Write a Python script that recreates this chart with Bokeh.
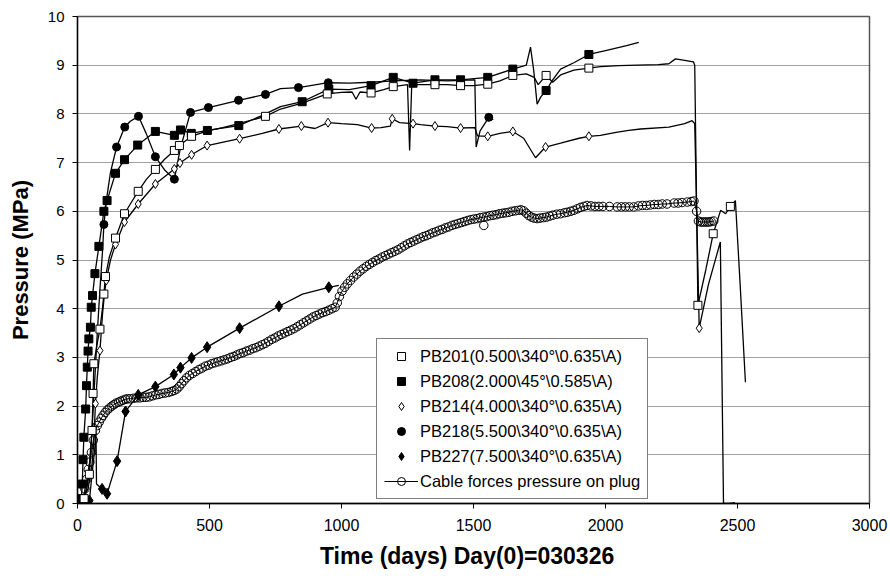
from bokeh.plotting import figure
from bokeh.models import Legend, LegendItem, FixedTicker, Range1d
from bokeh.embed import file_html
from bokeh.resources import INLINE

FONT = "Liberation Sans"

x_ticks = [0, 500, 1000, 1500, 2000, 2500, 3000]
y_ticks = [0, 1, 2, 3, 4, 5, 6, 7, 8, 9, 10]

labels = [
    "PB201(0.500\\340°\\0.635\\A)",
    "PB208(2.000\\45°\\0.585\\A)",
    "PB214(4.000\\340°\\0.635\\A)",
    "PB218(5.500\\340°\\0.635\\A)",
    "PB227(7.500\\340°\\0.635\\A)",
    "Cable forces pressure on plug",
]

# ---- PB201 (open squares) ----
pb201_day = [0, 25, 45, 55, 59, 62, 75, 85, 95, 100, 106, 120, 144, 178, 200, 230, 260, 295, 330, 367,
             386, 432, 491, 550, 611, 712, 769, 851, 946, 1000, 1040, 1055, 1070, 1112, 1160, 1196,
             1250, 1258, 1266, 1300, 1354, 1400, 1451, 1500, 1554, 1600, 1649, 1700, 1730, 1745, 1775,
             1800, 1830, 1880, 1937, 1981, 2050, 2120, 2200, 2240, 2265, 2300, 2333, 2338, 2350, 2380,
             2408, 2436, 2455, 2473, 2492, 2510, 2530]
pb201_p = [0.05, 0.1, 0.6, 1.5, 2.26, 2.87, 3.3, 3.58, 4.03, 4.3, 4.66, 5.05, 5.45, 5.95, 6.15, 6.41, 6.65,
           6.86, 7.07, 7.25, 7.35, 7.54, 7.65, 7.72, 7.8, 7.95, 8.1, 8.22, 8.41, 8.44, 8.45, 8.3, 8.45,
           8.43, 8.5, 8.56, 8.6, 7.25, 8.6, 8.6, 8.6, 8.6, 8.58, 8.58, 8.61, 8.68, 8.79, 8.82, 8.75, 8.6,
           8.79, 8.65, 8.8, 8.9, 8.94, 8.97, 8.99, 9.0, 9.01, 9.03, 9.13, 9.1, 9.07, 9.0, 4.07, 4.8,
           5.54, 6.02, 5.95, 6.1, 6.22, 4.5, 2.49]
pb201_mk_day = [25, 45, 55, 59, 62, 85, 100, 106, 144, 178, 230, 295, 367, 386, 432, 712, 946, 1112,
                1196, 1354, 1451, 1554, 1649, 1775, 1937, 2350, 2408, 2473]
pb201_mk_p = [0.1, 0.6, 1.5, 2.26, 2.87, 3.58, 4.3, 4.66, 5.45, 5.95, 6.41, 6.86, 7.25, 7.35, 7.54, 7.95,
              8.41, 8.43, 8.56, 8.6, 8.58, 8.61, 8.79, 8.79, 8.94, 4.07, 5.54, 6.1]

# ---- PB208 (filled squares) ----
pb208_day = [0, 15, 18, 21, 24, 31, 34, 37, 40, 43, 49, 52, 57, 66, 81, 100, 112, 144, 178, 228, 295,
             367, 390, 431, 492, 611, 700, 769, 851, 952, 1030, 1112, 1196, 1271, 1354, 1451, 1554,
             1649, 1700, 1716, 1728, 1741, 1755, 1775, 1800, 1830, 1880, 1937, 2000, 2080, 2126]
pb208_p = [0.05, 0.1, 0.4, 0.9, 1.36, 1.94, 2.42, 2.8, 3.13, 3.38, 3.62, 4.03, 4.27, 4.72, 5.28, 6.0,
           6.22, 6.78, 7.06, 7.36, 7.64, 7.56, 7.67, 7.6, 7.66, 7.76, 7.97, 8.15, 8.25, 8.51, 8.5, 8.58,
           8.75, 8.63, 8.7, 8.7, 8.75, 8.92, 9.0, 9.37, 8.9, 8.2, 8.35, 8.48, 8.7, 8.92, 9.05, 9.22,
           9.3, 9.4, 9.47]
pb208_mk_day = [15, 18, 21, 24, 31, 34, 37, 40, 43, 49, 52, 57, 66, 81, 100, 112, 144, 178, 228, 295,
                367, 390, 431, 492, 611, 851, 952, 1112, 1196, 1271, 1354, 1451, 1554, 1649, 1775, 1937]
pb208_mk_p = [0.1, 0.4, 0.9, 1.36, 1.94, 2.42, 2.8, 3.13, 3.38, 3.62, 4.03, 4.27, 4.72, 5.28, 6.0, 6.22,
              6.78, 7.06, 7.36, 7.64, 7.56, 7.67, 7.6, 7.66, 7.76, 8.25, 8.51, 8.58, 8.75, 8.63, 8.7,
              8.7, 8.75, 8.92, 8.48, 9.22]

# ---- PB214 (open diamonds) ----
pb214_day = [0, 20, 40, 55, 62, 68, 75, 85, 95, 102, 109, 125, 144, 178, 230, 295, 367, 388, 432, 491,
             614, 700, 763, 848, 900, 949, 1000, 1060, 1114, 1150, 1185, 1192, 1220, 1271, 1300, 1354,
             1400, 1451, 1505, 1515, 1554, 1600, 1649, 1690, 1735, 1773, 1830, 1900, 1937, 1981, 2040,
             2088, 2133, 2240, 2300, 2328, 2338, 2355, 2390, 2435, 2447, 2470, 2490]
pb214_p = [0.05, 0.1, 0.3, 0.8, 1.3, 2.05, 2.6, 3.14, 3.9, 4.3, 4.58, 5.0, 5.32, 5.78, 6.15, 6.56, 6.87,
           6.99, 7.16, 7.35, 7.49, 7.6, 7.69, 7.75, 7.7, 7.82, 7.8, 7.78, 7.71, 7.72, 7.75, 7.9, 7.82,
           7.8, 7.78, 7.75, 7.74, 7.71, 7.72, 7.55, 7.54, 7.6, 7.64, 7.5, 7.1, 7.32, 7.4, 7.5, 7.54,
           7.56, 7.62, 7.66, 7.69, 7.73, 7.8, 7.86, 7.8, 3.6, 4.5, 5.37, 0.0, 0.0, 0.02]
pb214_mk_day = [68, 85, 109, 144, 178, 230, 295, 367, 388, 432, 491, 614, 763, 848, 949, 1114, 1192,
                1271, 1354, 1451, 1554, 1649, 1773, 1937, 2355]
pb214_mk_p = [2.05, 3.14, 4.58, 5.32, 5.78, 6.15, 6.56, 6.87, 6.99, 7.16, 7.35, 7.49, 7.69, 7.75, 7.82,
              7.71, 7.9, 7.8, 7.75, 7.71, 7.54, 7.64, 7.32, 7.54, 3.6]

# ---- PB218 (filled circles) ----
pb218_day = [0, 20, 35, 45, 55, 65, 75, 85, 95, 100, 110, 125, 148, 179, 200, 231, 260, 295, 330, 367,
             390, 428, 496, 610, 712, 769, 837, 950, 1030, 1112, 1196, 1300, 1400, 1505, 1510, 1525,
             1558, 1575]
pb218_p = [0.05, 0.1, 0.3, 0.8, 1.5, 2.5, 3.5, 4.4, 5.2, 5.73, 6.25, 6.8, 7.32, 7.73, 7.85, 7.95, 7.6,
           7.12, 6.85, 6.66, 7.3, 8.03, 8.13, 8.28, 8.4, 8.52, 8.54, 8.64, 8.63, 8.65, 8.68, 8.7, 8.68,
           8.7, 7.32, 7.65, 7.93, 7.88]
pb218_mk_day = [100, 148, 179, 231, 295, 367, 428, 496, 610, 712, 837, 950, 1558]
pb218_mk_p = [5.73, 7.32, 7.73, 7.95, 7.12, 6.66, 8.03, 8.13, 8.28, 8.4, 8.54, 8.64, 7.93]

# ---- PB227 (filled diamonds) ----
pb227_day = [0, 10, 25, 45, 55, 65, 70, 72, 93, 112, 150, 182, 230, 295, 365, 390, 432, 491, 614, 763,
             852, 952, 990]
pb227_p = [0.02, 0.06, 0.1, 0.06, 0.6, 1.1, 1.5, 0.4, 0.3, 0.2, 0.87, 1.89, 2.23, 2.4, 2.65, 2.79, 2.99,
           3.21, 3.6, 4.05, 4.3, 4.44, 4.48]
pb227_mk_day = [10, 45, 93, 112, 150, 182, 230, 295, 365, 390, 432, 491, 614, 763, 952]
pb227_mk_p = [0.06, 0.06, 0.3, 0.2, 0.87, 1.89, 2.23, 2.4, 2.65, 2.79, 2.99, 3.21, 3.6, 4.05, 4.44]

# ---- Cable forces pressure on plug (open circles, densely logged) ----
cable_day = [15, 22, 28, 35, 41, 47, 53, 60, 68, 75, 82, 90, 97, 105, 113, 121, 130, 138, 146, 155, 163,
             172, 181, 190, 200, 212, 224, 236, 248, 260, 272, 284, 296, 308, 320, 332, 344, 356, 366,
             376, 385, 394, 403, 413, 424, 436, 448, 460, 472, 484, 496, 508, 520, 532, 544, 556, 568,
             580, 592, 604, 616, 628, 640, 652, 664, 676, 688, 700, 712, 724, 736, 748, 760, 772, 784,
             796, 808, 820, 832, 844, 856, 868, 880, 892, 904, 916, 928, 940, 952, 964, 976, 984, 992,
             1002, 1012, 1022, 1034, 1046, 1058, 1070, 1082, 1094, 1106, 1118, 1130, 1142, 1154, 1166,
             1178, 1190, 1202, 1214, 1226, 1238, 1250, 1262, 1274, 1286, 1298, 1310, 1322, 1334, 1346,
             1358, 1370, 1382, 1394, 1406, 1418, 1430, 1442, 1454, 1466, 1478, 1490, 1502, 1514, 1526,
             1538, 1550, 1562, 1574, 1586, 1598, 1610, 1622, 1634, 1646, 1658, 1670, 1680, 1690, 1700,
             1710, 1720, 1730, 1741, 1752, 1764, 1776, 1788, 1800, 1815, 1830, 1845, 1855, 1868, 1880,
             1893, 1905, 1918, 1930, 1945, 1960, 1975, 1990, 2015, 2044, 2060, 2075, 2090, 2107, 2125,
             2140, 2155, 2170, 2185, 2200, 2215, 2233, 2260, 2275, 2290, 2310, 2325, 2335, 2345, 2352,
             2360, 2368, 2376, 2384, 2392, 2400, 2410]
cable_p = [0.02, 0.1, 0.3, 0.5, 0.7, 0.85, 1.05, 1.3, 1.5, 1.6, 1.67, 1.75, 1.81, 1.87, 1.92, 1.96, 2.0,
           2.03, 2.06, 2.08, 2.1, 2.12, 2.14, 2.15, 2.15, 2.16, 2.17, 2.17, 2.18, 2.18, 2.19, 2.21, 2.23,
           2.24, 2.26, 2.27, 2.28, 2.3, 2.32, 2.35, 2.4, 2.46, 2.52, 2.58, 2.63, 2.67, 2.71, 2.75, 2.78,
           2.82, 2.84, 2.87, 2.89, 2.91, 2.93, 2.95, 2.97, 3.0, 3.02, 3.05, 3.08, 3.1, 3.13, 3.15, 3.18,
           3.2, 3.23, 3.26, 3.29, 3.33, 3.37, 3.4, 3.44, 3.47, 3.5, 3.53, 3.56, 3.59, 3.63, 3.67, 3.71,
           3.75, 3.79, 3.83, 3.86, 3.89, 3.92, 3.94, 3.97, 4.0, 4.03, 4.12, 4.25, 4.36, 4.44, 4.51, 4.58,
           4.65, 4.71, 4.77, 4.82, 4.87, 4.91, 4.95, 4.99, 5.02, 5.06, 5.09, 5.12, 5.15, 5.18, 5.21,
           5.25, 5.29, 5.33, 5.36, 5.39, 5.42, 5.45, 5.48, 5.5, 5.53, 5.56, 5.58, 5.61, 5.63, 5.66, 5.68,
           5.71, 5.73, 5.75, 5.77, 5.79, 5.81, 5.83, 5.84, 5.85, 5.87, 5.88, 5.89, 5.91, 5.92, 5.93,
           5.95, 5.96, 5.97, 5.98, 6.0, 6.01, 6.02, 6.03, 6.01, 5.96, 5.91, 5.88, 5.86, 5.85, 5.86, 5.87,
           5.88, 5.9, 5.92, 5.94, 5.95, 5.97, 5.98, 6.0, 6.02, 6.05, 6.08, 6.1, 6.12, 6.11, 6.1, 6.1,
           6.1, 6.1, 6.09, 6.09, 6.09, 6.09, 6.09, 6.11, 6.12, 6.12, 6.13, 6.14, 6.14, 6.15, 6.15, 6.17,
           6.17, 6.18, 6.19, 6.2, 6.21, 6.0, 5.8, 5.78, 5.78, 5.78, 5.78, 5.78, 5.79, 5.8]
cable_extra_day = [1539]
cable_extra_p = [5.71]

p = figure(width=890, height=579, output_backend="svg", toolbar_location=None,
           x_range=Range1d(0, 3000), y_range=Range1d(0, 10),
           min_border_left=77, min_border_right=21, min_border_top=16, min_border_bottom=76)
p.background_fill_color = "white"
p.border_fill_color = "white"
p.outline_line_color = "#555555"
p.outline_line_width = 1.5

p.xgrid.visible = False
p.ygrid.grid_line_color = "#444444"
p.ygrid.grid_line_dash = "1 1"
p.ygrid.grid_line_width = 1

p.xaxis.ticker = FixedTicker(ticks=x_ticks)
p.yaxis.ticker = FixedTicker(ticks=y_ticks)
for ax in (p.xaxis, p.yaxis):
    ax.axis_line_color = "black"
    ax.axis_line_width = 1.3
    ax.major_tick_line_color = "black"
    ax.major_tick_in = 0
    ax.major_tick_out = 5
    ax.minor_tick_line_color = None
    ax.major_label_text_font = FONT
    ax.major_label_text_color = "black"
    ax.axis_label_text_font = FONT
    ax.axis_label_text_font_style = "bold"
    ax.axis_label_text_color = "black"
p.xaxis.axis_label_text_font_size = "23px"
p.yaxis.axis_label_text_font_size = "22px"
p.xaxis.major_label_text_font_size = "16px"
p.yaxis.major_label_text_font_size = "15px"
p.xaxis.major_label_standoff = 10
p.yaxis.major_label_standoff = 8
p.xaxis.axis_label = "Time  (days)  Day(0)=030326"
p.yaxis.axis_label = "Pressure (MPa)"
p.xaxis.axis_label_standoff = 9
p.yaxis.axis_label_standoff = 12

LW = 1.3
p.line(pb201_day, pb201_p, line_color="black", line_width=LW)
p.line(pb208_day, pb208_p, line_color="black", line_width=LW)
p.line(pb214_day, pb214_p, line_color="black", line_width=LW)
p.line(pb218_day, pb218_p, line_color="black", line_width=LW)
p.line(pb227_day, pb227_p, line_color="black", line_width=LW)
cl = p.line(cable_day, cable_p, line_color="black", line_width=1.0)

cs = p.scatter(cable_day, cable_p, marker="circle", size=8.5, fill_color=None,
               line_color="black", line_width=1)
p.scatter(cable_extra_day, cable_extra_p, marker="circle", size=8.5, fill_color=None,
          line_color="black", line_width=1)
s227 = p.scatter(pb227_mk_day, pb227_mk_p, marker="diamond", size=11, fill_color="black",
                 line_color="black")
s218 = p.scatter(pb218_mk_day, pb218_mk_p, marker="circle", size=8, fill_color="black",
                 line_color="black")
s214 = p.scatter(pb214_mk_day, pb214_mk_p, marker="diamond", size=9, fill_color="white",
                 line_color="black", line_width=1)
s208 = p.scatter(pb208_mk_day, pb208_mk_p, marker="square", size=8, fill_color="black",
                 line_color="black")
s201 = p.scatter(pb201_mk_day, pb201_mk_p, marker="square", size=8, fill_color="white",
                 line_color="black", line_width=1)

legend = Legend(items=[
    LegendItem(label=labels[0], renderers=[s201]),
    LegendItem(label=labels[1], renderers=[s208]),
    LegendItem(label=labels[2], renderers=[s214]),
    LegendItem(label=labels[3], renderers=[s218]),
    LegendItem(label=labels[4], renderers=[s227]),
    LegendItem(label=labels[5], renderers=[cl, cs]),
], location=(299, 4), margin=0, padding=7, spacing=5,
    glyph_width=34, glyph_height=20, label_height=20, label_standoff=2,
    label_text_font=FONT, label_text_font_size="16.5px", label_text_color="black",
    border_line_color="black", border_line_width=1,
    background_fill_color="white", background_fill_alpha=1.0)
p.add_layout(legend)

open("out.html", "w").write(file_html(p, INLINE))
